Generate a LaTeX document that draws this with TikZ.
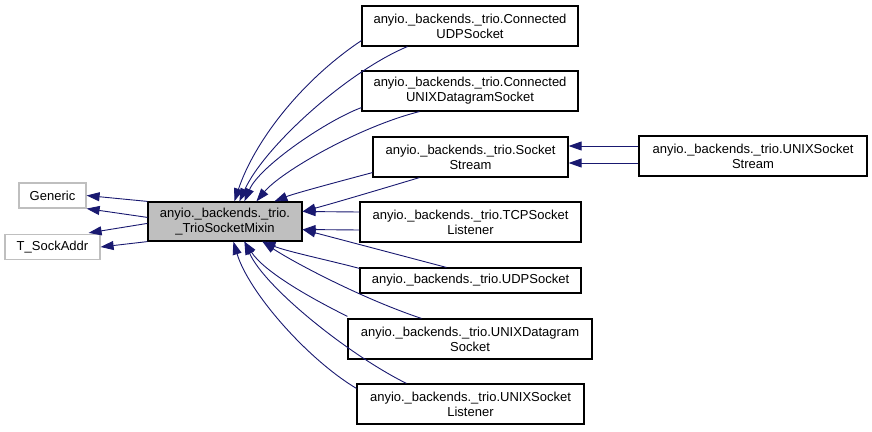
\documentclass[tikz,border=0pt]{standalone}
\usepackage{fontspec}
\setmainfont{Liberation Sans}
\usetikzlibrary{arrows.meta,calc}
\definecolor{edgeblue}{HTML}{191970}
\definecolor{boxgray}{HTML}{BFBFBF}

\begin{document}
\begin{tikzpicture}[x=1pt, y=-1pt, font=\fontsize{13}{15}\selectfont,
  cls/.style={draw=black, line width=1.2pt, fill=white, rectangle, align=center, inner sep=0pt, minimum height=40pt},
  ext/.style={draw=boxgray, line width=1.2pt, fill=white, rectangle, align=center, inner sep=0pt, minimum height=25pt},
  cur/.style={cls, fill=boxgray},
  inh/.style={draw=edgeblue, line width=0.9pt, -{Triangle[length=13pt, width=9pt]}}]
\useasboundingbox (0,0) rectangle (872,431);
% base classes
\node[ext, minimum width=67pt] (generic) at (52.5,195.5) {Generic};
\node[ext, minimum width=95pt] (sockaddr) at (52.5,247) {T\_SockAddr};
\node[cur, minimum width=154pt, minimum height=39pt] (mixin) at (225,221.5) {anyio.\_backends.\_trio.\\\_TrioSocketMixin};
% derived classes
\node[cls, minimum width=216pt] (cudp) at (470,26) {anyio.\_backends.\_trio.Connected\\UDPSocket};
\node[cls, minimum width=216pt] (cunix) at (470,91) {anyio.\_backends.\_trio.Connected\\UNIXDatagramSocket};
\node[cls, minimum width=195pt] (sstream) at (470.5,157) {anyio.\_backends.\_trio.Socket\\Stream};
\node[cls, minimum width=221pt] (tcp) at (470.5,222) {anyio.\_backends.\_trio.TCPSocket\\Listener};
\node[cls, minimum width=221pt, minimum height=25pt] (udp) at (470.5,280.5) {anyio.\_backends.\_trio.UDPSocket};
\node[cls, minimum width=244pt] (unixdg) at (470,339) {anyio.\_backends.\_trio.UNIXDatagram\\Socket};
\node[cls, minimum width=227pt] (unixlst) at (470.5,404) {anyio.\_backends.\_trio.UNIXSocket\\Listener};
\node[cls, minimum width=228pt] (unixss) at (753,156) {anyio.\_backends.\_trio.UNIXSocket\\Stream};
% mixin -> bases
\draw[inh] (mixin.north west) -- (generic.east);
\draw[inh] ($(mixin.north west)+(0,16)$) -- (generic.south east);
\draw[inh] ($(mixin.north west)+(0,22)$) -- ($(sockaddr.north east)+(-12,-1)$);
\draw[inh] (mixin.south west) -- (sockaddr.east);
% derived -> mixin, top
\draw[inh] ($(cudp.south west)+(0,-6)$) .. controls +(-60,40) and +(20,-60) .. ($(mixin.north west)+(87,0)$);
\draw[inh] ($(cudp.south west)+(46,0)$) .. controls +(-60,25) and +(25,-55) .. ($(mixin.north west)+(92,0)$);
\draw[inh] ($(cunix.south west)+(0,-4)$) .. controls +(-35,13) and +(15,-35) .. ($(mixin.north west)+(97,0)$);
\draw[inh] ($(cunix.south west)+(58,0)$) .. controls +(-60,15) and +(25,-30) .. ($(mixin.north west)+(109,0)$);
\draw[inh] ($(sstream.south west)+(0,-5)$) .. controls +(-30,8) and +(20,-8) .. ($(mixin.north west)+(127,0)$);
\draw[inh] ($(sstream.south west)+(47,0)$) .. controls +(-40,12) and +(30,-8) .. ($(mixin.east)+(0,-10)$);
% derived -> mixin, right
\draw[inh] ($(tcp.west)+(0,-10)$) -- ($(mixin.east)+(0,-10)$);
\draw[inh] ($(tcp.west)+(0,8)$) -- ($(mixin.east)+(0,8)$);
\draw[inh] ($(udp.north west)+(87,0)$) -- ($(mixin.east)+(0,8)$);
% derived -> mixin, bottom
\draw[inh] ($(udp.north west)+(0,1)$) .. controls +(-30,-8) and +(25,10) .. ($(mixin.south west)+(115,0)$);
\draw[inh] ($(unixdg.north west)+(0,-2)$) .. controls +(-40,-20) and +(20,30) .. ($(mixin.south west)+(97,0)$);
\draw[inh] ($(unixdg.north west)+(74,0)$) .. controls +(-60,-20) and +(30,20) .. ($(mixin.south west)+(115,0)$);
\draw[inh] ($(unixlst.north west)+(0,5)$) .. controls +(-50,-30) and +(15,50) .. ($(mixin.south west)+(86,0)$);
\draw[inh] ($(unixlst.north west)+(50,0)$) .. controls +(-60,-30) and +(20,45) .. ($(mixin.south west)+(97,0)$);
% stream -> socket stream
\draw[inh] ($(unixss.west)+(0,-10)$) -- ($(sstream.east)+(0,-11)$);
\draw[inh] ($(unixss.west)+(0,7)$) -- ($(sstream.east)+(0,6)$);
\end{tikzpicture}
\end{document}
